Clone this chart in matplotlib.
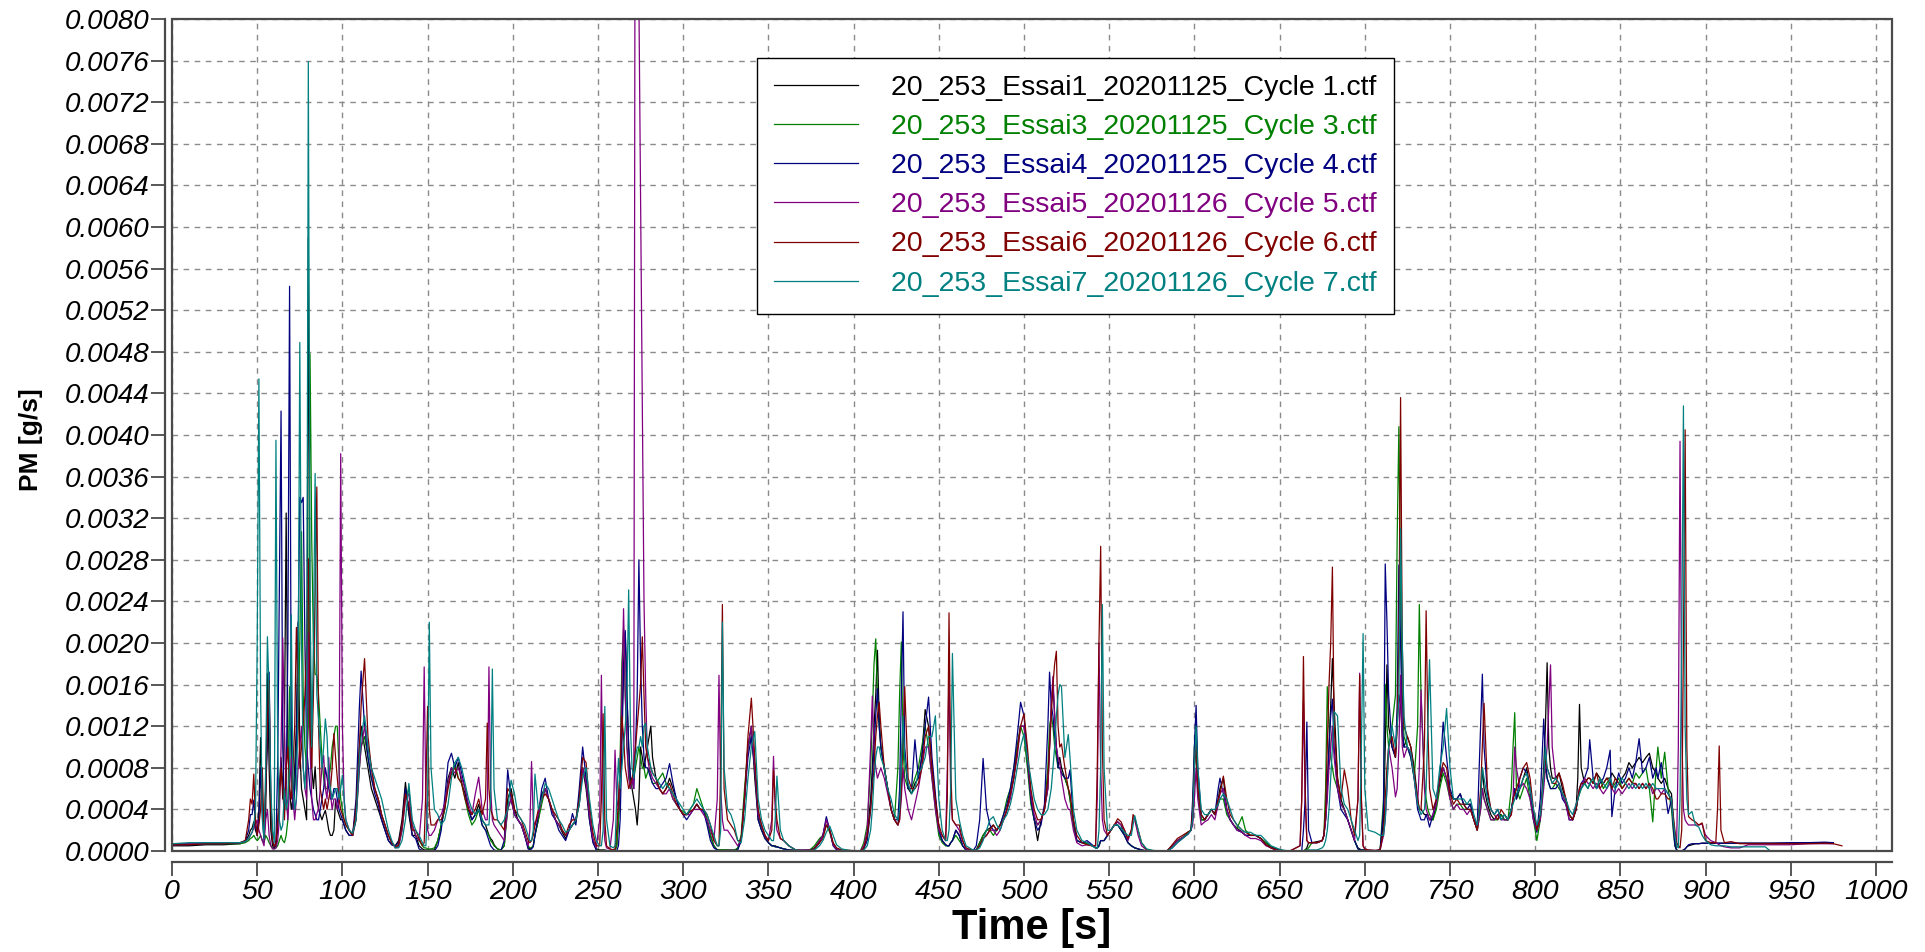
import numpy as np
import matplotlib
matplotlib.use("Agg")
import matplotlib.pyplot as plt
from matplotlib.patches import Rectangle
from matplotlib.ticker import MultipleLocator, FormatStrFormatter

nan = float("nan")

# Sample times [s] shared by all runs
time_s = [
    0, 10, 20, 30, 40, 43, 45, 46,
    47, 48, 49, 50, 51, 52, 53, 54, 55, 56,
    57, 58, 59, 60, 61, 62, 63, 64, 65, 66,
    67, 68, 69, 70, 71, 72, 73, 74, 75, 76,
    77, 78, 79, 80, 81, 82, 83, 84, 85, 86,
    87, 88, 89, 90, 91, 92, 93, 94, 95, 96,
    97, 98, 99, 100,
    101, 102, 104, 106, 108, 110, 111, 113, 115, 117,
    119, 121, 123, 125, 127, 129, 131, 133, 135, 137,
    139, 141, 143, 145, 147, 148, 149, 150, 151, 152,
    154, 156, 158, 160, 162, 164, 166, 168, 170, 172, 174, 176,
    178, 180, 182, 184, 185, 186, 187, 188, 189, 191,
    193, 195, 197, 199, 201, 203, 205, 207, 209, 210,
    211, 212, 213, 215, 217, 219, 221, 223, 225, 227,
    229, 231, 233, 235, 237, 239, 241, 243, 245, 247,
    249, 251, 252, 253, 254, 255, 257, 259, 260, 261,
    262,
    263, 264, 265, 266, 267, 268, 269, 270, 271, 272,
    273, 274, 275, 276, 277, 278, 279, 280, 281, 282,
    284, 286, 288, 290, 292, 294, 296, 298, 300, 302,
    304, 306, 308, 310, 312, 314, 316, 318, 320, 321,
    322, 323, 324, 326, 328, 330, 332, 334, 336, 338,
    340, 342, 344, 346,
    348, 350, 352, 353, 354, 355, 357, 359, 362, 366,
    370, 374, 377, 380, 382, 384, 386, 388, 390, 393,
    398, 404, 406, 408, 410,
    411, 412, 413, 414, 415, 416, 418, 420, 422, 424,
    426, 427, 428, 429, 430, 432, 434, 436, 438, 440,
    442, 444, 446, 448, 450, 452, 454, 455, 456, 457,
    458, 460, 462, 464, 466, 470,
    472, 474, 476, 478, 480, 482, 484, 486, 488, 490,
    492, 494, 496, 498, 500, 502, 504, 506, 508, 510,
    512,
    514, 515, 516, 517, 518, 519, 520, 521, 522, 524,
    526, 527, 529, 531, 534, 537, 540, 542, 543, 544,
    545, 546, 547, 549, 551, 553, 555, 557, 559, 561,
    563, 564, 565, 567, 569, 572,
    576, 584, 587, 590, 593, 596, 598, 599, 600, 601,
    602, 604, 606, 608, 610, 612, 614, 615, 617, 619,
    621, 623, 625, 628, 630, 633, 636, 639, 642, 645,
    648, 651, 656, 662, 663, 664, 665, 666, 667, 669,
    672, 675, 676,
    677, 678, 679, 680, 681, 682, 684, 686, 688, 690,
    692, 694, 696, 697, 698, 699, 700, 702, 706, 709,
    711, 712, 713, 714, 716, 718, 719, 720, 721, 722,
    723, 725, 727, 729, 731, 732, 733, 735, 736, 737,
    738, 740, 742, 744, 746, 748, 750, 752, 754, 756,
    758, 760,
    762, 764, 766, 768, 769, 770, 772, 774, 776, 778,
    780, 782, 784, 786, 787, 788, 789, 791, 793, 795,
    797, 799, 801, 803, 805, 806, 807, 808, 809, 810,
    812, 814, 816, 818, 820, 822, 824, 825, 826, 827,
    829, 831, 832, 834, 836, 838, 840, 842, 844, 845,
    847, 849, 851, 853, 855, 857, 859, 861, 863, 865,
    867, 869, 871, 872, 874, 876, 878, 880,
    881, 882, 883, 884, 885, 886, 887, 888, 889, 890,
    892, 894, 896, 898, 900, 903, 906, 907, 908, 909,
    911, 915, 920, 925, 935, 938, 950, 960, 970, 975,
    980,
]

# PM mass flow of each run, in units of 1e-4 g/s
pm_c1 = [
    0.5, 0.5, 0.6, 0.6, 0.7, 0.9, 1.5, 2.0,
    2.2, 2.8, 2.0, 1.5, 4.0, 10.9, 5.0, 1.5, 4.0, 17.1,
    8.0, 2.0, 0.5, 0.3, 0.5, 2.0, 6.0, 9.0, 5.0, 12,
    32.5, 10, 6.0, 4.0, 5.0, 8.0, 12, 22, 10, 6.0,
    5.0, 4.0, 3.0, 59, 20, 8.0, 6.0, 8.1, 5.0, 4.0,
    3.5, 3.0, 3.5, 3.9, 3.0, 2.0, 1.5, 1.5, 2.0, 4.9,
    4.0, 3.5, 3.0, 3.0,
    2.5, 2.0, 1.5, 1.5, 4.0, 10, 12, 10, 8.0, 6.0,
    5.0, 4.0, 3.0, 2.0, 1.0, 0.6, 0.5, 1.0, 3.0, 6.6,
    3.5, 1.5, 1.5, 0.5, 0.2, 0.1, 0.1, 0.1, 0.1, 0.1,
    0.1, 1.0, 2.5, 4.0, 7.0, 8.0, 7.0, 8.5, 6.5, 5.5, 4.0, 3.0,
    3.5, 4.5, 3.0, 2.5, 2.0, 1.5, 1.2, 1.0, 0.6, 0.2,
    0.1, 0.5, 5.0, 6.0, 4.0, 3.0, 2.5, 1.5, 0.3, 0.2,
    0.3, 0.5, 1.5, 3.0, 5.5, 6.0, 5.0, 4.0, 3.0, 2.5,
    1.8, 1.2, 2.0, 2.5, 3.0, 5.0, 8.0, 6.0, 3.0, 1.0,
    0.2, 0.1, 0.1, 0.1, 0.1, 0.05, 0.05, 0.05, 0.1, 0.5,
    3.0,
    6.0, 12, 18, 21, 15, 10, 7.0, 6.0, 5.0, 4.0,
    2.5, 5.0, 10, 9.0, 8.0, 9.0, 10, 11, 12, 9.0,
    7.0, 6.0, 5.5, 6.0, 7.0, 6.0, 5.0, 4.0, 3.5, 3.5,
    3.8, 4.0, 4.5, 4.0, 4.0, 3.0, 1.5, 0.5, 0.1, 0.1,
    0.1, 0.1, 0.1, 0.1, 0.1, 0.1, 0.2, 1.0, 5.0, 10,
    12, 7.0, 3.0, 2.0,
    1.5, 0.8, 0.5, 0.5, 0.5, 0.4, 0.3, 0.2, 0.1, 0.05,
    0.05, 0.1, 0.3, 1.0, 1.5, 3.0, 2.0, 0.7, 0.2, 0.05,
    0.0, 0.0, 0.3, 1.5, 5.0,
    8.0, 12, 15, 19.3, 13, 10, 8.0, 6.0, 4.0, 3.0,
    2.5, 4.0, 8.0, 12, 9.0, 6.0, 5.5, 6.5, 7.0, 9.0,
    13.6, 12, 8.0, 5.0, 2.0, 1.0, 0.6, 0.5, 0.5, 0.8,
    1.0, 2.0, 1.5, 0.5, 0.1, 0.0,
    0.1, 0.8, 1.5, 2.0, 2.2, 2.5, 2.0, 2.5, 3.0, 4.0,
    5.5, 7.0, 10, 12, 12, 9.0, 5.0, 3.0, 1.0, 3.0,
    4.0,
    6.0, 10, 14, 16, 13, 10, 8.0, 9.0, 8.0, 7.0,
    6.0, 5.0, 2.5, 1.0, 0.8, 0.8, 0.5, 0.3, 0.3, 0.5,
    1.0, 1.0, 1.0, 1.5, 2.0, 2.5, 2.8, 2.5, 1.5, 0.8,
    0.5, 0.4, 0.3, 0.2, 0.1, 0.0,
    0.0, 0.0, 0.5, 1.0, 1.3, 1.6, 2.0, 3.0, 8.0, 10,
    6.0, 3.0, 3.0, 3.5, 4.0, 3.5, 5.0, 6.0, 7.0, 4.0,
    3.0, 2.5, 2.2, 1.8, 1.5, 1.5, 1.5, 1.2, 0.8, 0.4,
    0.2, 0.05, 0.0, 0.0, 0.0, 0.0, 0.1, 0.3, 0.8, 0.8,
    0.9, 1.0, 1.5,
    3.0, 6.0, 10, 14, 18.5, 14, 7.0, 5.0, 4.0, 3.0,
    2.0, 1.0, 0.3, 0.2, 0.1, 0.1, 0.1, 0.05, 0.0, 0.1,
    3.0, 10, 17.9, 12, 10, 9.0, 12, 15, 14, 11,
    10, 11, 10, 8.0, 5.0, 4.0, 4.0, 3.5, 3.5, 3.5,
    3.0, 3.0, 4.5, 6.5, 8.0, 7.0, 5.5, 5.0, 5.0, 5.5,
    4.5, 4.5,
    4.5, 3.0, 2.0, 5.0, 8.0, 6.0, 4.5, 3.5, 3.0, 3.5,
    3.5, 3.0, 3.0, 4.0, 5.0, 6.0, 5.0, 6.0, 7.0, 8.0,
    6.0, 3.5, 2.0, 3.0, 8.0, 12, 18.1, 10, 8.0, 7.0,
    7.0, 7.5, 6.0, 5.0, 3.5, 3.0, 4.0, 7.0, 14.1, 8.0,
    6.5, 7.0, 7.0, 6.5, 7.5, 7.0, 6.5, 7.0, 7.0, 7.5,
    7.0, 6.5, 7.0, 7.5, 8.5, 8.0, 8.5, 9.0, 8.5, 9.0,
    9.4, 8.0, 7.5, 7.0, 6.5, 7.0, 6.0, 5.5,
    3.0, 1.0, 0.1, 0.0, 0.0, 0.0, 0.1, 0.2, 0.4, 0.5,
    0.6, 0.7, 0.7, 0.75, 0.75, 0.75, 0.75, 0.75, 0.75, 0.75,
    0.75, 0.75, 0.75, 0.75, 0.75, 0.75, 0.75, 0.8, 0.8, 0.8,
    nan,
]

pm_c3 = [
    0.7, 0.7, 0.7, 0.7, 0.7, 0.8, 1.0, 1.2,
    1.3, 1.5, 1.2, 1.0, 1.2, 1.5, 1.0, 0.8, 1.5, 1.2,
    0.8, 0.5, 0.3, 0.2, 0.3, 0.5, 1.0, 1.5, 1.0, 0.8,
    1.5, 3.0, 15.8, 8.0, 4.0, 6.0, 10, 12, 20, 30.7,
    15, 10, 8.0, 12, 47.8, 30, 20, 17, 16.9, 15,
    12, 9.0, 7.0, 6.0, 6.0, 7.0, 8.0, 10, 11, 12,
    12, 8.0, 5.0, 4.0,
    3.0, 2.5, 2.0, 1.5, 3.0, 8.0, 10, 11, 9.0, 7.0,
    6.0, 5.0, 3.5, 2.5, 1.5, 0.8, 0.4, 0.5, 2.0, 5.0,
    6.0, 2.5, 1.5, 1.0, 0.5, 0.3, 0.3, 0.2, 0.2, 0.2,
    0.3, 1.0, 2.5, 4.0, 6.5, 7.5, 8.5, 7.0, 6.5, 5.0, 3.5, 2.5,
    3.0, 4.0, 2.5, 2.0, 1.8, 1.5, 1.0, 0.8, 0.5, 0.2,
    0.1, 0.5, 4.0, 5.0, 3.5, 3.0, 2.5, 1.5, 0.5, 0.3,
    0.3, 0.5, 1.5, 3.0, 4.5, 6.0, 5.0, 4.0, 3.0, 2.5,
    2.0, 1.5, 2.0, 2.5, 2.8, 4.5, 8.0, 7.0, 3.5, 1.0,
    0.1, 0.05, 0.05, 0.05, 0.05, 0.0, 0.0, 0.0, 0.0, 0.5,
    3.0,
    9.0, 18, 21.4, 15, 10, 8.0, 6.0, 6.5, 7.0, 8.0,
    9.0, 10, 9.0, 8.0, 8.0, 7.0, 7.5, 8.0, 7.0, 6.5,
    6.5, 7.0, 7.5, 6.5, 6.0, 5.0, 4.5, 4.0, 3.8, 3.5,
    4.0, 4.5, 6.0, 5.0, 4.0, 3.0, 1.5, 0.5, 0.1, 0.1,
    0.1, 0.1, 0.1, 0.05, 0.05, 0.05, 0.3, 1.5, 6.0, 10,
    11, 8.0, 3.5, 2.0,
    1.2, 0.8, 0.5, 0.5, 0.4, 0.4, 0.3, 0.2, 0.1, 0.05,
    0.05, 0.05, 0.5, 1.2, 1.5, 2.5, 1.8, 0.6, 0.2, 0.05,
    0.0, 0.0, 0.8, 2.5, 8.0,
    13, 18, 20.4, 15, 12, 10, 8.0, 6.0, 4.0, 3.0,
    8.0, 15, 20.1, 10, 7.0, 6.0, 6.0, 7.0, 8.0, 10,
    12, 10, 7.0, 4.0, 1.5, 0.8, 0.5, 0.5, 0.5, 0.8,
    1.0, 1.5, 1.0, 0.5, 0.1, 0.0,
    0.1, 0.8, 1.5, 2.0, 2.0, 1.5, 2.0, 2.5, 3.5, 5.0,
    6.0, 8.0, 10, 12, 11, 8.0, 4.5, 3.0, 2.5, 3.0,
    4.0,
    8.0, 12, 13, 12, 10, 9.0, 8.0, 8.0, 7.5, 7.0,
    6.0, 5.0, 2.5, 1.0, 0.8, 0.7, 0.5, 0.3, 0.3, 0.5,
    1.0, 1.0, 1.0, 1.5, 2.0, 2.5, 2.5, 2.0, 1.5, 0.8,
    0.5, 0.4, 0.3, 0.2, 0.1, 0.0,
    0.0, 0.0, 0.5, 1.0, 1.3, 1.8, 2.0, 3.5, 10, 12,
    6.0, 3.0, 3.0, 3.5, 4.0, 3.5, 4.5, 5.0, 5.0, 3.5,
    3.0, 2.5, 2.2, 3.3, 2.0, 1.5, 1.5, 1.2, 0.8, 0.3,
    0.1, 0.05, 0.0, 0.0, 0.0, 0.0, 0.1, 0.1, 0.3, 0.8,
    0.8, 1.0, 1.5,
    6.0, 15.8, 12, 9.0, 8.0, 7.0, 6.0, 4.5, 4.0, 3.0,
    2.0, 1.0, 0.2, 0.1, 0.1, 0.1, 0.05, 0.0, 0.0, 0.1,
    5.0, 16, 12, 10, 12, 15, 30, 40.8, 25, 15,
    11, 10, 9.0, 7.0, 12, 23.7, 15, 7.0, 5.0, 4.0,
    3.5, 3.0, 4.0, 6.0, 7.5, 6.5, 5.0, 4.0, 4.5, 4.5,
    4.0, 4.0,
    4.0, 3.0, 2.0, 4.0, 6.0, 5.0, 4.0, 3.0, 3.0, 3.0,
    3.5, 3.0, 3.0, 6.0, 10, 13.3, 6.0, 5.0, 6.0, 7.0,
    5.0, 3.0, 1.0, 3.0, 7.0, 8.0, 7.0, 6.5, 6.0, 6.0,
    6.5, 6.0, 5.5, 4.5, 3.5, 3.0, 4.0, 5.0, 5.5, 6.0,
    6.5, 6.0, 6.5, 7.0, 6.0, 7.0, 6.0, 6.5, 7.0, 6.0,
    6.5, 7.0, 6.0, 6.5, 7.0, 6.5, 7.5, 7.0, 7.5, 8.0,
    6.0, 2.8, 8.0, 10.0, 7.0, 9.5, 6.0, 4.0,
    2.0, 0.5, 0.1, 0.0, 0.0, 0.0, 0.0, 0.0, 0.0, 0.0,
    0.0, 0.0, 0.0, 0.0, 0.0, 0.0, 0.0, 0.0, 0.0, 0.0,
    0.0, 0.0, 0.0, 0.0, 0.0, 0.0, 0.0, 0.0, 0.0, 0.0,
    nan,
]

pm_c4 = [
    0.6, 0.6, 0.7, 0.7, 0.8, 1.0, 2.0, 3.5,
    3.5, 4.9, 2.5, 1.5, 3.0, 8.0, 3.5, 1.0, 6.0, 10,
    17.2, 5.0, 1.0, 0.3, 1.0, 8.0, 25, 42.3, 10, 4.0,
    6.0, 20, 54.3, 12, 4.0, 6.0, 10, 20, 34, 33.5,
    34, 20, 10, 8.0, 6.0, 5.0, 4.0, 3.5, 3.0, 3.0,
    4.0, 5.0, 6.0, 8.0, 7.0, 6.0, 5.0, 5.0, 6.0, 6.0,
    5.0, 4.0, 3.5, 3.0,
    2.5, 2.0, 1.5, 1.5, 5.0, 14, 17.3, 12, 9.0, 7.0,
    5.5, 4.5, 3.0, 2.0, 1.0, 0.6, 0.5, 0.8, 2.5, 6.0,
    4.0, 1.5, 1.2, 0.2, 0.05, 0.0, 0.0, 0.0, 0.0, 0.0,
    0.0, 0.5, 2.0, 5.0, 8.5, 9.4, 8.0, 9.0, 7.5, 6.0, 4.0, 3.0,
    3.5, 4.0, 2.5, 2.0, 1.5, 1.0, 0.5, 0.3, 0.1, 0.0,
    0.0, 1.0, 7.8, 5.0, 3.5, 3.0, 2.5, 1.5, 0.2, 0.1,
    0.2, 0.4, 1.5, 3.5, 6.0, 7.0, 5.0, 3.5, 3.0, 2.0,
    1.5, 1.0, 2.0, 3.6, 2.5, 6.0, 10, 7.0, 3.0, 0.8,
    0.1, 0.0, 0.0, 0.0, 0.0, 0.0, 0.0, 0.0, 0.0, 0.0,
    0.5,
    3.0, 10, 17, 21.2, 15, 10, 7.0, 7.0, 6.0, 10,
    15, 28, 18, 12, 9.0, 8.0, 8.0, 7.5, 7.0, 6.5,
    6.0, 6.0, 6.5, 7.0, 8.4, 6.5, 5.0, 4.0, 3.5, 3.0,
    3.5, 4.0, 4.5, 4.0, 3.8, 2.5, 1.0, 0.3, 0.1, 0.0,
    0.0, 0.0, 0.0, 0.0, 0.0, 0.0, 0.1, 1.0, 5.0, 9.0,
    11, 8.0, 3.0, 2.0,
    1.2, 0.8, 0.5, 0.5, 0.4, 0.4, 0.3, 0.2, 0.1, 0.05,
    0.05, 0.05, 0.2, 0.8, 1.5, 3.3, 2.0, 0.5, 0.1, 0.0,
    0.0, 0.0, 0.2, 1.0, 4.0,
    7.0, 10, 13, 15.6, 12, 10, 8.0, 6.0, 4.0, 3.0,
    3.0, 6.0, 15, 23, 10, 6.0, 6.0, 10.7, 7.0, 9.0,
    12, 14.8, 9.0, 5.5, 2.0, 1.0, 0.6, 0.5, 0.5, 0.8,
    1.0, 2.0, 1.5, 0.5, 0.1, 0.0,
    0.5, 3.0, 8.9, 4.0, 2.5, 2.0, 2.0, 2.5, 3.5, 4.5,
    6.0, 8.0, 11, 14.3, 13, 9.0, 5.0, 3.0, 2.0, 2.5,
    4.5,
    12, 17.2, 14, 13, 11, 10, 8.0, 8.0, 7.5, 7.0,
    7.0, 7.8, 3.0, 1.0, 0.8, 1.0, 0.6, 0.3, 0.3, 0.5,
    1.0, 1.0, 1.0, 1.5, 2.0, 2.5, 2.5, 2.0, 1.5, 0.8,
    0.5, 0.4, 0.3, 0.2, 0.1, 0.0,
    0.0, 0.0, 0.3, 0.8, 1.2, 1.6, 2.0, 5.0, 10, 14.0,
    8.0, 3.5, 3.0, 3.5, 4.0, 3.5, 6.0, 7.0, 5.5, 4.0,
    3.0, 2.5, 2.0, 1.8, 1.5, 1.5, 1.5, 1.2, 0.6, 0.3,
    0.1, 0.05, 0.0, 0.0, 0.0, 2.0, 5.0, 12.4, 2.0, 0.8,
    0.8, 1.0, 1.5,
    3.0, 6.0, 10, 13, 14.6, 10, 6.0, 4.0, 3.5, 3.0,
    2.0, 1.0, 0.2, 0.1, 0.1, 0.1, 0.05, 0.0, 0.0, 0.1,
    4.0, 27.6, 22, 15, 10, 9.0, 14, 27.5, 20, 12,
    10, 10, 9.0, 7.0, 4.0, 3.5, 3.0, 3.0, 3.5, 3.0,
    2.3, 3.5, 5.0, 7.0, 12.4, 9.0, 6.0, 5.0, 5.0, 5.5,
    4.5, 4.0,
    4.5, 3.0, 2.5, 12, 17.0, 10, 5.5, 4.0, 3.5, 4.0,
    3.0, 3.5, 3.0, 4.0, 5.0, 6.0, 5.0, 7.0, 8.0, 7.5,
    6.0, 3.0, 1.8, 5.0, 12.7, 9.0, 7.0, 6.5, 6.0, 6.0,
    6.0, 6.5, 5.0, 4.5, 3.0, 3.0, 4.0, 5.0, 6.0, 6.5,
    7.0, 8.0, 10.7, 7.0, 6.0, 6.5, 7.0, 8.0, 9.7, 3.3,
    6.0, 7.5, 6.5, 7.0, 8.0, 7.0, 8.5, 10.8, 7.5, 8.0,
    9.0, 7.0, 8.0, 7.0, 8.5, 6.0, 3.6, 5.0,
    2.5, 0.5, 0.1, 0.0, 0.0, 0.0, 0.1, 0.2, 0.4, 0.6,
    0.7, 0.7, 0.7, 0.75, 0.75, 0.75, 0.75, 0.75, 0.75, 0.75,
    0.75, 0.75, 0.75, 0.75, 0.75, 0.75, 0.8, 0.8, 0.85, 0.8,
    nan,
]

pm_c5 = [
    0.7, 0.7, 0.8, 0.8, 0.8, 0.9, 1.2, 1.5,
    1.8, 2.2, 2.5, 3.0, 2.0, 1.5, 1.0, 0.5, 3.0, 4.0,
    1.5, 0.5, 0.2, 0.2, 0.3, 1.0, 3.0, 10, 20.5, 12,
    5.0, 3.0, 6.0, 9.0, 5.0, 3.0, 5.0, 8.0, 10, 12,
    8.0, 6.0, 5.0, 21, 10, 5.0, 3.0, 3.0, 3.6, 4.0,
    6.0, 8.0, 9.2, 6.0, 5.0, 9.0, 5.5, 4.0, 5.0, 5.0,
    4.0, 5.0, 38.2, 12,
    5.0, 3.0, 2.0, 1.5, 3.0, 8.0, 10, 12, 10, 8.0,
    6.0, 5.0, 3.5, 2.5, 1.5, 0.8, 0.3, 0.4, 2.0, 5.0,
    5.5, 2.5, 1.5, 1.0, 5.0, 17.7, 5.0, 2.0, 1.5, 1.5,
    2.0, 3.0, 3.5, 4.5, 6.5, 8.0, 7.5, 8.0, 7.0, 6.0, 4.5, 3.5,
    5.5, 7.1, 4.0, 3.0, 3.0, 17.7, 6.0, 3.0, 2.5, 2.0,
    1.5, 1.0, 4.0, 5.0, 3.5, 3.0, 2.5, 1.5, 0.5, 2.0,
    8.6, 3.0, 2.5, 3.5, 5.0, 6.0, 5.0, 4.0, 3.0, 2.5,
    2.0, 1.5, 2.0, 2.5, 3.0, 4.5, 8.0, 6.5, 3.5, 1.2,
    0.3, 3.0, 16.9, 4.0, 1.0, 0.3, 0.2, 3.0, 9.7, 5.0,
    4.0,
    8.0, 15, 23.3, 15, 10, 7.0, 6.0, 7.0, 6.0, 120,
    101, 82, 62, 43, 24, 15, 9.0, 8.0, 7.5, 7.0,
    6.5, 6.0, 5.5, 5.5, 6.0, 5.0, 4.5, 4.0, 3.5, 3.5,
    3.5, 4.0, 4.0, 4.0, 3.5, 3.0, 2.0, 1.0, 5.0, 16.9,
    6.0, 3.0, 2.0, 2.0, 1.5, 1.0, 0.5, 1.0, 5.0, 10,
    12, 8.0, 3.5, 2.5,
    1.5, 1.0, 3.0, 9.1, 4.0, 2.0, 1.2, 1.0, 0.5, 0.1,
    0.1, 0.1, 0.2, 1.0, 1.5, 3.0, 2.0, 0.6, 0.2, 0.05,
    0.0, 0.0, 0.5, 2.0, 10,
    14.9, 10, 8.0, 7.0, 7.5, 8.0, 7.0, 5.5, 4.0, 3.0,
    2.5, 3.0, 5.0, 8.0, 6.0, 4.0, 3.0, 4.5, 6.0, 8.0,
    10, 10, 7.0, 4.0, 2.0, 1.5, 1.0, 8.0, 17.1, 5.0,
    3.0, 2.5, 2.0, 1.0, 0.2, 0.05,
    0.1, 0.5, 1.2, 1.5, 2.0, 2.0, 1.5, 2.0, 3.0, 4.0,
    5.0, 7.0, 9.0, 12, 12, 9.0, 5.5, 3.5, 2.5, 3.0,
    4.0,
    6.0, 10, 14, 16.8, 13, 10, 9.0, 8.5, 7.0, 5.0,
    4.0, 4.0, 2.0, 0.8, 0.5, 0.6, 0.5, 0.5, 5.0, 20.0,
    8.0, 3.0, 2.0, 1.5, 2.0, 2.5, 2.8, 2.5, 2.0, 1.0,
    2.0, 3.2, 3.0, 1.5, 0.5, 0.1,
    0.0, 0.0, 0.5, 1.0, 1.3, 1.6, 2.0, 2.5, 5.0, 8.0,
    5.0, 2.5, 2.8, 3.0, 3.5, 3.0, 4.5, 5.5, 6.0, 4.0,
    3.0, 2.5, 2.0, 1.8, 1.5, 1.2, 1.2, 1.0, 0.5, 0.3,
    0.1, 0.05, 0.0, 0.5, 5.0, 14.4, 5.0, 1.0, 0.8, 0.8,
    0.8, 1.0, 1.5,
    3.0, 5.0, 8.0, 10, 12, 9.0, 6.0, 4.5, 4.0, 3.0,
    2.0, 1.0, 5.0, 17.1, 5.0, 0.5, 0.2, 0.1, 0.05, 0.1,
    1.5, 3.0, 6.0, 10, 8.0, 5.2, 6.0, 10, 16.9, 10,
    9.0, 10, 9.5, 7.0, 4.5, 8.0, 15.5, 6.0, 4.0, 3.5,
    3.0, 3.5, 4.5, 7.0, 8.0, 7.0, 5.0, 4.0, 4.5, 4.0,
    4.0, 3.5,
    4.0, 3.0, 2.0, 4.0, 6.0, 5.0, 4.0, 3.0, 3.0, 3.5,
    3.0, 3.0, 3.0, 3.5, 5.0, 10, 8.0, 6.0, 6.5, 6.0,
    5.0, 3.0, 2.0, 3.0, 6.0, 8.0, 10, 14, 17.9, 10,
    7.0, 6.5, 5.5, 4.5, 3.0, 3.0, 4.5, 5.0, 6.0, 6.0,
    7.0, 6.5, 6.5, 6.0, 6.5, 6.0, 5.5, 6.0, 6.5, 6.0,
    5.5, 6.0, 5.5, 6.0, 6.5, 6.0, 6.5, 6.0, 6.5, 6.0,
    6.5, 5.5, 6.0, 6.0, 5.5, 6.0, 5.5, 5.0,
    3.0, 1.5, 0.5, 10, 39.4, 12, 4.0, 3.0, 2.7, 2.5,
    2.5, 2.5, 2.5, 2.6, 1.5, 1.0, 0.8, 0.7, 0.6, 0.5,
    0.4, 0.3, 0.3, 0.6, 0.6, 0.6, 0.6, 0.7, 0.7, 0.7,
    nan,
]

pm_c6 = [
    0.6, 0.6, 0.7, 0.7, 0.8, 1.0, 3.0, 5.0,
    4.5, 7.4, 3.0, 1.5, 2.5, 4.0, 8.0, 1.5, 6.0, 12,
    16.4, 4.0, 1.0, 0.4, 0.8, 3.0, 5.0, 8.0, 6.0, 3.0,
    8.0, 10, 6.0, 5.0, 8.0, 12, 21.5, 15, 8.0, 10,
    12, 15, 20, 28.1, 12, 8.0, 15, 25, 35, 12,
    6.0, 5.0, 4.0, 5.0, 4.0, 5.0, 6.0, 8.0, 11.3, 9.0,
    7.0, 5.0, 4.0, 3.5,
    3.0, 2.5, 2.0, 1.5, 4.0, 10, 14, 18.5, 11, 8.0,
    6.0, 5.0, 3.5, 2.5, 1.5, 0.8, 0.4, 0.6, 2.5, 5.5,
    4.5, 2.0, 2.0, 1.2, 0.5, 0.8, 6.0, 13.9, 4.0, 2.5,
    2.5, 3.0, 3.0, 4.0, 6.0, 7.5, 8.0, 7.0, 6.5, 5.0, 4.0, 3.5,
    4.0, 5.0, 3.5, 5.0, 12.3, 6.0, 4.0, 3.5, 3.0, 3.0,
    2.5, 2.0, 6.0, 5.5, 4.0, 3.5, 3.0, 2.0, 1.0, 0.8,
    1.0, 1.5, 2.5, 4.0, 5.0, 5.5, 5.0, 4.0, 3.5, 3.0,
    2.0, 1.5, 2.5, 3.0, 3.0, 5.0, 9.0, 8.5, 4.5, 1.8,
    0.5, 0.5, 5.0, 13.2, 3.0, 0.5, 0.2, 0.1, 0.2, 2.0,
    5.0,
    8.0, 13, 11, 8.0, 7.0, 6.0, 6.5, 7.0, 8.0, 10,
    12, 14, 16, 20.6, 15, 10, 9.0, 8.5, 8.0, 7.5,
    7.0, 6.0, 5.5, 6.0, 6.5, 5.5, 4.5, 4.0, 3.5, 3.5,
    3.8, 4.0, 4.5, 4.0, 4.0, 3.5, 2.5, 1.0, 0.5, 0.5,
    8.0, 23.7, 6.0, 3.0, 2.5, 2.0, 1.0, 1.0, 5.0, 11,
    14.7, 9.0, 4.0, 2.5,
    1.5, 1.0, 2.0, 7.8, 5.0, 3.0, 1.2, 1.0, 0.5, 0.1,
    0.05, 0.05, 0.2, 0.8, 1.2, 2.5, 2.0, 0.8, 0.3, 0.1,
    0.05, 0.0, 0.3, 1.5, 4.0,
    6.0, 8.0, 11, 13, 14.3, 12, 8.0, 6.0, 4.0, 3.0,
    2.5, 3.0, 6.0, 11, 15.8, 7.0, 6.0, 6.0, 6.5, 8.0,
    11, 12, 8.0, 5.0, 2.5, 1.5, 1.0, 5.0, 22.9, 8.0,
    3.0, 2.5, 2.5, 1.0, 0.3, 0.05,
    0.1, 0.5, 1.2, 1.5, 2.0, 2.5, 2.0, 2.5, 3.0, 4.0,
    5.5, 7.0, 9.5, 12, 13.2, 10, 6.0, 4.0, 3.0, 3.0,
    4.0,
    7.0, 10, 13, 16, 18, 19.2, 12, 10, 10.3, 8.0,
    6.0, 5.5, 3.0, 1.5, 0.8, 0.6, 0.5, 0.5, 8.0, 20.0,
    29.3, 10, 3.0, 1.5, 2.0, 2.5, 3.1, 2.8, 2.0, 1.2,
    2.0, 3.5, 3.2, 2.0, 0.8, 0.1,
    0.0, 0.0, 0.6, 1.2, 1.5, 1.8, 2.0, 4.0, 8.0, 10.7,
    6.0, 3.5, 3.0, 3.5, 4.0, 3.5, 5.0, 5.5, 7.2, 5.0,
    3.5, 3.0, 2.5, 2.0, 1.8, 1.5, 1.5, 1.2, 0.6, 0.3,
    0.1, 0.05, 0.0, 0.5, 5.0, 18.7, 6.0, 1.0, 0.8, 0.8,
    0.8, 1.0, 1.5,
    4.0, 10, 16, 20, 27.3, 12, 7.0, 5.0, 7.8, 6.0,
    3.0, 1.5, 5.0, 16.9, 5.0, 0.5, 0.2, 0.1, 0.05, 0.1,
    2.0, 5.0, 8.0, 10, 11, 9.0, 12, 20, 43.6, 20,
    12, 11, 10, 7.5, 5.0, 4.0, 4.0, 10, 23.1, 12,
    6.0, 4.0, 5.0, 7.0, 8.5, 8.0, 5.5, 4.5, 5.0, 4.5,
    4.5, 4.0,
    4.0, 3.0, 2.0, 6.0, 10, 14.2, 6.0, 4.0, 3.5, 3.0,
    4.0, 3.5, 3.0, 3.5, 5.0, 5.5, 6.0, 7.0, 8.0, 8.5,
    7.0, 4.0, 2.0, 3.5, 7.0, 9.0, 8.0, 7.5, 7.0, 6.5,
    6.5, 7.5, 6.5, 5.0, 3.5, 3.0, 4.0, 5.0, 6.0, 6.5,
    6.5, 7.0, 7.0, 6.5, 7.5, 6.0, 6.5, 7.0, 6.5, 6.0,
    7.0, 6.5, 6.0, 6.5, 7.0, 6.5, 6.5, 6.0, 6.5, 6.0,
    6.5, 6.0, 5.0, 5.0, 5.5, 5.5, 5.0, 5.0,
    3.5, 2.0, 0.8, 0.5, 0.3, 2.0, 20, 40.5, 10, 3.3,
    3.0, 2.8, 2.5, 2.7, 1.0, 0.8, 0.8, 4.0, 10.1, 2.0,
    0.8, 0.9, 0.7, 0.7, 0.7, 0.7, 0.7, 0.7, 0.75, 0.7,
    0.5,
]

pm_c7 = [
    0.7, 0.8, 0.8, 0.8, 0.8, 0.9, 1.2, 1.5,
    1.8, 2.5, 4.0, 20, 45.4, 15, 3.0, 1.2, 8.0, 20.6,
    15, 6.0, 2.0, 0.8, 39.5, 10, 3.0, 2.0, 2.5, 6.0,
    4.0, 5.0, 8.0, 22.7, 6.0, 4.0, 5.0, 15, 48.9, 20,
    8.0, 6.0, 10, 75.9, 25, 10, 20, 36.3, 15, 12.7,
    10, 8.0, 10, 12.7, 11, 7.0, 6.0, 5.0, 5.5, 6.0,
    6.0, 5.0, 6.0, 7.3,
    5.0, 3.0, 2.0, 1.7, 3.0, 9.0, 11, 13, 10, 8.0,
    7.0, 6.0, 5.0, 3.5, 2.0, 1.0, 0.3, 0.3, 1.0, 3.0,
    6.5, 3.0, 2.0, 1.5, 0.8, 0.5, 0.5, 5.0, 22.0, 8.0,
    4.0, 3.5, 2.5, 3.0, 4.5, 7.0, 8.5, 9.0, 8.0, 6.5, 5.0, 4.0,
    3.5, 4.0, 3.0, 2.5, 2.5, 2.5, 5.0, 17.5, 6.0, 3.0,
    2.5, 3.0, 4.0, 6.8, 5.5, 3.5, 3.0, 2.5, 1.5, 1.0,
    1.0, 2.0, 7.4, 4.0, 5.0, 6.5, 6.0, 5.0, 4.0, 3.0,
    2.5, 1.8, 2.0, 2.5, 3.0, 4.5, 7.0, 8.0, 5.0, 2.5,
    1.0, 0.5, 0.5, 2.0, 13.9, 3.0, 0.5, 0.3, 0.5, 5.0,
    8.9,
    6.0, 8.0, 10, 12, 15, 25.1, 12, 8.0, 7.0, 9.0,
    10, 10, 11, 10, 12, 12.3, 10, 9.0, 8.0, 7.5,
    7.0, 6.5, 6.0, 6.5, 6.0, 5.5, 5.0, 4.5, 4.0, 3.5,
    4.0, 4.5, 5.0, 4.5, 4.0, 3.5, 2.5, 1.5, 0.5, 0.5,
    2.0, 22.0, 8.0, 4.0, 3.5, 2.5, 1.0, 0.8, 3.0, 7.0,
    10, 11.5, 5.0, 3.0,
    2.0, 1.5, 1.0, 1.0, 3.0, 7.2, 2.0, 1.0, 0.5, 0.1,
    0.05, 0.05, 0.1, 0.5, 1.0, 1.8, 2.4, 1.5, 0.6, 0.2,
    0.05, 0.0, 0.1, 0.5, 2.0,
    4.0, 7.0, 9.0, 10, 10, 9.0, 8.0, 6.0, 5.0, 3.5,
    3.0, 4.0, 8.0, 13, 9.0, 6.5, 5.5, 6.0, 7.5, 8.0,
    9.0, 11, 11, 13, 5.0, 2.0, 1.0, 1.0, 2.0, 6.0,
    19.0, 5.0, 3.0, 1.5, 0.5, 0.1,
    0.1, 0.3, 1.0, 2.0, 3.0, 3.3, 2.5, 2.0, 3.0, 3.5,
    4.5, 6.0, 8.0, 10, 11.3, 9.0, 7.0, 5.0, 4.0, 3.5,
    3.5,
    4.0, 5.0, 6.0, 8.0, 10, 13, 15, 16, 15.8, 9.0,
    11.2, 9.0, 4.0, 2.0, 1.0, 0.8, 0.5, 0.3, 0.3, 2.0,
    8.0, 23.7, 8.0, 2.0, 2.0, 2.5, 2.5, 2.2, 1.8, 1.5,
    1.5, 2.5, 3.4, 2.0, 0.8, 0.2,
    0.05, 0.0, 0.3, 0.8, 1.2, 1.6, 2.0, 3.0, 8.0, 12,
    8.0, 4.0, 3.5, 3.5, 4.0, 4.0, 4.5, 5.0, 5.5, 5.0,
    4.0, 3.0, 2.5, 2.0, 1.8, 1.8, 1.5, 1.5, 1.0, 0.5,
    0.3, 0.1, 0.0, 0.0, 0.0, 0.0, 0.05, 0.05, 0.1, 0.1,
    0.1, 0.3, 0.5,
    1.0, 2.0, 4.0, 7.0, 10, 13.4, 13, 6.0, 4.5, 4.0,
    3.0, 2.0, 1.0, 1.5, 10, 20.9, 6.0, 2.0, 1.8, 1.5,
    1.5, 3.0, 6.0, 10, 12, 10, 12, 15, 31.0, 20,
    13, 10, 9.5, 7.0, 4.5, 4.0, 3.5, 4.0, 6.0, 12,
    18.4, 6.0, 5.0, 8.0, 10, 13.7, 8.0, 5.0, 5.0, 5.0,
    5.0, 4.5,
    5.0, 3.5, 2.5, 5.0, 8.0, 7.0, 5.0, 4.0, 3.5, 4.0,
    3.0, 3.5, 3.0, 4.0, 4.5, 5.0, 5.5, 6.0, 7.0, 7.5,
    6.0, 4.0, 2.5, 3.5, 7.0, 10, 8.0, 7.5, 7.0, 6.5,
    7.0, 6.5, 5.5, 5.0, 4.0, 3.5, 4.5, 5.0, 5.5, 6.0,
    6.5, 6.0, 6.5, 7.0, 6.0, 7.0, 6.5, 6.0, 7.0, 6.5,
    6.0, 6.5, 7.0, 6.5, 6.0, 6.5, 6.0, 6.5, 6.0, 6.5,
    6.0, 6.5, 6.0, 6.0, 6.0, 6.0, 5.5, 5.0,
    3.0, 1.5, 0.5, 0.3, 5.0, 20, 42.8, 12, 5.0, 3.5,
    3.8, 2.5, 2.3, 1.5, 1.0, 0.6, 0.5, 0.5, 0.5, 0.5,
    0.5, 0.4, 0.4, 0.4, 0.4, 0.0, 0.0, 0.0, 0.0, 0.0,
    nan,
]

run_labels = [
    "20_253_Essai1_20201125_Cycle 1.ctf",
    "20_253_Essai3_20201125_Cycle 3.ctf",
    "20_253_Essai4_20201125_Cycle 4.ctf",
    "20_253_Essai5_20201126_Cycle 5.ctf",
    "20_253_Essai6_20201126_Cycle 6.ctf",
    "20_253_Essai7_20201126_Cycle 7.ctf",
]
run_colors = ["#000000", "#008000", "#000080", "#800080", "#800000", "#008080"]
runs = [pm_c1, pm_c3, pm_c4, pm_c5, pm_c6, pm_c7]

lengths = [len(r) for r in runs]
if any(n != len(time_s) for n in lengths):
    raise ValueError(f"length mismatch: time {len(time_s)}, runs {lengths}")

plt.rcParams["font.family"] = ["Liberation Sans", "DejaVu Sans"]

W, H = 1925, 952
fig = plt.figure(figsize=(W / 100, H / 100), dpi=100)
x0, x1, y0, y1 = 172, 1892, 19, 851
ax = fig.add_axes([x0 / W, 1 - y1 / H, (x1 - x0) / W, (y1 - y0) / H])

t = np.asarray(time_s, dtype=float)
for vals, col, lab in zip(runs, run_colors, run_labels):
    ax.plot(t, np.asarray(vals, dtype=float) * 1e-4, color=col, lw=0.9, label=lab)

ax.set_xlim(0, 1009.4)
ax.set_ylim(0, 0.008)
ax.xaxis.set_major_locator(MultipleLocator(50))
ax.yaxis.set_major_locator(MultipleLocator(0.0004))
ax.xaxis.set_major_formatter(FormatStrFormatter("%d"))
ax.yaxis.set_major_formatter(FormatStrFormatter("%.4f"))

ax.grid(True, color="#8a8a8a", linestyle=(0, (4, 4)), linewidth=1.0)
ax.set_axisbelow(True)

axis_col = "#4a4a4a"
for side in ("top", "right"):
    ax.spines[side].set_visible(False)
ax.spines["left"].set_position(("outward", 5))
ax.spines["bottom"].set_position(("outward", 8))
for side in ("left", "bottom"):
    ax.spines[side].set_color(axis_col)
    ax.spines[side].set_linewidth(1.6)
ax.add_patch(Rectangle((0, 0), 1, 1, transform=ax.transAxes, fill=False,
                       ec=axis_col, lw=1.6, clip_on=False, zorder=5))

ax.tick_params(axis="both", direction="out", length=10, width=1.3, color=axis_col)
ax.tick_params(axis="y", pad=1, labelsize=20)
ax.tick_params(axis="x", pad=2, labelsize=20.5)
for lbl in ax.get_xticklabels() + ax.get_yticklabels():
    lbl.set_fontstyle("italic")

fig.text(1032 / W, 1 - 928 / H, "Time [s]", ha="center", va="center",
         fontsize=30, fontweight="bold")
fig.text(31 / W, 1 - 440 / H, "PM [g/s]", ha="center", va="center",
         rotation=90, fontsize=19, fontweight="bold")

leg = ax.legend(loc="upper left", bbox_to_anchor=(757 / W, 1 - 58 / H),
                bbox_transform=fig.transFigure, borderaxespad=0,
                prop={"size": 20.5}, frameon=True, fancybox=False,
                framealpha=1, edgecolor="#000000", handlelength=2.95,
                handletextpad=1.15, labelspacing=0.46, borderpad=0.6)
leg.get_frame().set_linewidth(1.0)
for txt, col in zip(leg.get_texts(), run_colors):
    txt.set_color(col)

fig.savefig("out.png", dpi=100)
